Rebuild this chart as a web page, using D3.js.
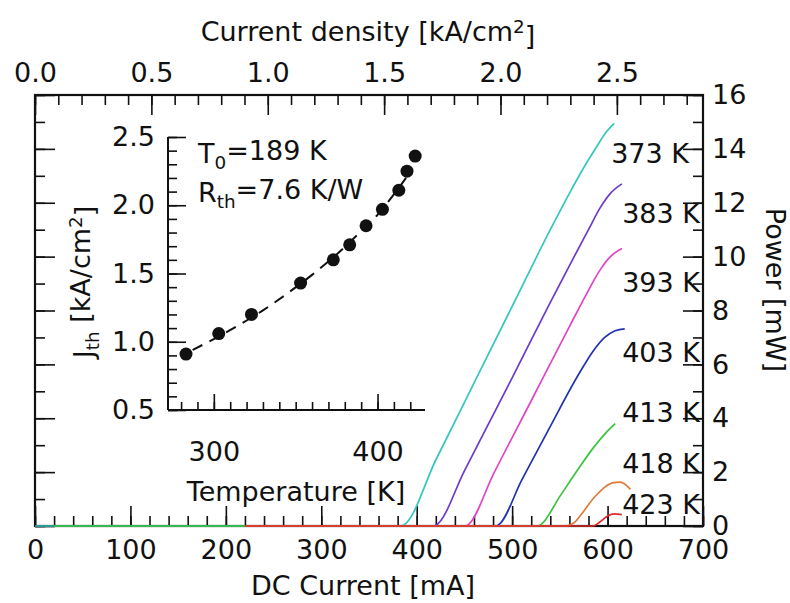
<!DOCTYPE html>
<html><head><meta charset="utf-8">
<script src="https://cdn.jsdelivr.net/npm/d3@7/dist/d3.min.js"></script>
<style>
body{margin:0;background:#fff}
svg{display:block}
text{font-family:"DejaVu Sans",sans-serif;fill:#111}
</style>
</head><body>
<svg id="chart" width="790" height="603"></svg>
<script>
// Light output vs. DC current at several heat-sink temperatures: [current mA, power mW]
const curveNames = ["373 K", "383 K", "393 K", "403 K", "413 K", "418 K", "423 K"];
const curveColors = ["#35c6bd", "#6b3ccb", "#e046c6", "#2233b2", "#3cc23c", "#e07a3c", "#e02a2a"];
const li373 = [[0,0],[382,0],[386,0.03],[420,2.45],[460,5.3],[500,8.15],[540,11.0],[560,12.35],[575,13.3],[588,14.05],[598,14.6],[607,14.95]];
const li383 = [[220,0],[418,0],[421,0.05],[450,2.05],[500,5.5],[540,8.3],[565,10.0],[580,11.0],[592,11.8],[603,12.35],[615,12.7]];
const li393 = [[220,0],[451,0],[454,0.05],[480,1.9],[520,4.65],[560,7.4],[580,8.75],[592,9.5],[603,10.0],[615,10.3]];
const li403 = [[220,0],[483,0],[486,0.05],[510,1.7],[540,3.7],[570,5.65],[585,6.5],[597,7.0],[608,7.25],[618,7.32]];
const li413 = [[20,0],[527,0],[530,0.05],[550,1.1],[570,2.15],[585,2.9],[598,3.45],[608,3.8]];
const li418 = [[220,0],[556,0],[565,0.12],[575,0.55],[585,1.02],[595,1.38],[605,1.6],[613,1.63],[620,1.5],[624,1.36]];
const li423 = [[220,0],[585,0],[592,0.15],[600,0.37],[607,0.45],[615,0.42]];
const curves = [li373, li383, li393, li403, li413, li418, li423];
// Placement of the curve names: height in mW, right edge in px
const nameAt = [13.85, 11.62, 9.06, 6.46, 4.23, 2.34, 0.82];
const nameRight = [689, 700, 700, 700, 700, 700, 700];

// Inset: threshold current density vs. temperature
const insetTemp = [283, 303, 323, 353, 373, 383, 393, 403, 413, 418, 423];
const insetJth = [0.91, 1.06, 1.20, 1.43, 1.60, 1.71, 1.85, 1.97, 2.11, 2.25, 2.36];
const fitTemp = [287, 300, 315, 330, 345, 360, 375, 390, 400, 410, 418];
const fitJth = [0.94, 1.02, 1.12, 1.23, 1.355, 1.49, 1.64, 1.81, 1.93, 2.08, 2.21];

// Axis tick values
const currentTicks = [0, 100, 200, 300, 400, 500, 600, 700];
const powerTicks = [0, 2, 4, 6, 8, 10, 12, 14, 16];
const densityTicks = [0.0, 0.5, 1.0, 1.5, 2.0, 2.5];
const densityAtMax = 2.87; // kA/cm² at 700 mA
const insetTempTicks = [300, 400];
const insetJTicks = [0.5, 1.0, 1.5, 2.0, 2.5];

const FS = 27;
const svg = d3.select("#chart");
svg.append("rect").attr("width", 790).attr("height", 603).attr("fill", "#fff");

const L = 35, R = 703, T = 95, B = 526;
const x = d3.scaleLinear().domain([0, 700]).range([L, R]);
const xd = d3.scaleLinear().domain([0, densityAtMax]).range([L, R]);
const y = d3.scaleLinear().domain([0, 16]).range([B, T]);

function styleAxis(g) {
  g.select(".domain").remove();
  g.attr("font-size", FS).attr("font-family", "DejaVu Sans, sans-serif");
  g.selectAll("line").attr("stroke", "#111").attr("stroke-width", 1.6);
  g.selectAll("text").attr("fill", "#111");
  return g;
}
function tenths(a, b) { return d3.range(a, b + 1).map(v => v / 10); }

// bottom axis
styleAxis(svg.append("g").attr("transform", `translate(0,${B})`)
  .call(d3.axisBottom(x).tickValues(d3.range(0, 701, 20)).tickSize(-10).tickFormat("")));
styleAxis(svg.append("g").attr("transform", `translate(0,${B})`)
  .call(d3.axisBottom(x).tickValues(currentTicks).tickSize(-20).tickPadding(14).tickFormat(d3.format("d"))));
// top axis
styleAxis(svg.append("g").attr("transform", `translate(0,${T})`)
  .call(d3.axisTop(xd).tickValues(tenths(0, 28)).tickSize(-10).tickFormat("")));
styleAxis(svg.append("g").attr("transform", `translate(0,${T})`)
  .call(d3.axisTop(xd).tickValues(densityTicks).tickSize(-20).tickPadding(13).tickFormat(d3.format(".1f"))));
// right axis
styleAxis(svg.append("g").attr("transform", `translate(${R},0)`)
  .call(d3.axisRight(y).tickValues(d3.range(0, 17, 1)).tickSize(-10).tickFormat("")));
styleAxis(svg.append("g").attr("transform", `translate(${R},0)`)
  .call(d3.axisRight(y).tickValues(powerTicks).tickSize(-20).tickPadding(9).tickFormat(d3.format("d"))));
// left axis (ticks only)
styleAxis(svg.append("g").attr("transform", `translate(${L},0)`)
  .call(d3.axisLeft(y).tickValues(d3.range(0, 17, 1)).tickSize(-10).tickFormat("")));
styleAxis(svg.append("g").attr("transform", `translate(${L},0)`)
  .call(d3.axisLeft(y).tickValues(powerTicks).tickSize(-20).tickFormat("")));

// frame
svg.append("rect").attr("x", L).attr("y", T).attr("width", R - L).attr("height", B - T)
  .attr("fill", "none").attr("stroke", "#111").attr("stroke-width", 2.2);

// curves, drawn over the frame so the zero-power baselines stay visible
const line = d3.line().x(d => x(d[0])).y(d => y(d[1])).curve(d3.curveMonotoneX);
const cg = svg.append("g");
curves.forEach((c, i) => {
  cg.append("path").datum(c).attr("d", line)
    .attr("fill", "none").attr("stroke", curveColors[i]).attr("stroke-width", 1.7);
});

// curve names
curveNames.forEach((n, i) => {
  svg.append("text").attr("x", nameRight[i]).attr("y", y(nameAt[i])).attr("dy", "0.36em")
    .attr("text-anchor", "end").attr("font-size", FS).text(n);
});

// axis titles
const topTitle = svg.append("text").attr("x", 368).attr("y", 41).attr("text-anchor", "middle").attr("font-size", FS);
topTitle.append("tspan").text("Current density [kA/cm");
topTitle.append("tspan").attr("dy", "-0.45em").attr("font-size", FS * 0.68).text("2");
topTitle.append("tspan").attr("dy", "0.45em").text("]");
svg.append("text").attr("x", 363).attr("y", 595).attr("text-anchor", "middle").attr("font-size", FS).text("DC Current [mA]");
svg.append("text").attr("transform", "translate(766,290) rotate(90)").attr("text-anchor", "middle")
  .attr("font-size", FS).text("Power [mW]");

// ---- inset ----
const iL = 168, iR = 425, iT = 137, iB = 410;
const ix = d3.scaleLinear().domain([272, 429]).range([iL, iR]);
const iy = d3.scaleLinear().domain([0.5, 2.5]).range([iB, iT]);
const inset = svg.append("g");

styleAxis(inset.append("g").attr("transform", `translate(0,${iB})`)
  .call(d3.axisBottom(ix).tickValues(d3.range(280, 421, 10)).tickSize(-8).tickFormat("")));
styleAxis(inset.append("g").attr("transform", `translate(0,${iB})`)
  .call(d3.axisBottom(ix).tickValues(insetTempTicks).tickSize(-16).tickPadding(32).tickFormat(d3.format("d"))));
styleAxis(inset.append("g").attr("transform", `translate(${iL},0)`)
  .call(d3.axisLeft(iy).tickValues(tenths(5, 25)).tickSize(-9).tickFormat("")));
styleAxis(inset.append("g").attr("transform", `translate(${iL},0)`)
  .call(d3.axisLeft(iy).tickValues(insetJTicks).tickSize(-18).tickPadding(13).tickFormat(d3.format(".1f"))));
inset.append("line").attr("x1", iL).attr("x2", iR).attr("y1", iB).attr("y2", iB).attr("stroke", "#111").attr("stroke-width", 2);
inset.append("line").attr("x1", iL).attr("x2", iL).attr("y1", iT).attr("y2", iB).attr("stroke", "#111").attr("stroke-width", 2);

const fitLine = d3.line().x((d, i) => ix(fitTemp[i])).y(d => iy(d)).curve(d3.curveMonotoneX);
inset.append("path").datum(fitJth).attr("d", fitLine).attr("fill", "none")
  .attr("stroke", "#111").attr("stroke-width", 2).attr("stroke-dasharray", "11,8");
inset.selectAll("circle").data(insetJth).join("circle")
  .attr("cx", (d, i) => ix(insetTemp[i])).attr("cy", d => iy(d)).attr("r", 6.5).attr("fill", "#111");

const t0 = inset.append("text").attr("x", 198).attr("y", 163).attr("font-size", FS);
t0.append("tspan").text("T");
t0.append("tspan").attr("dy", "0.3em").attr("font-size", FS * 0.68).text("0");
t0.append("tspan").attr("dy", "-0.3em").text("=189 K");
const rth = inset.append("text").attr("x", 198).attr("y", 202).attr("font-size", FS);
rth.append("tspan").text("R");
rth.append("tspan").attr("dy", "0.3em").attr("font-size", FS * 0.68).text("th");
rth.append("tspan").attr("dy", "-0.3em").text("=7.6 K/W");

const jl = inset.append("text").attr("transform", "translate(93,282) rotate(-90)").attr("text-anchor", "middle").attr("font-size", FS);
jl.append("tspan").text("J");
jl.append("tspan").attr("dy", "0.3em").attr("font-size", FS * 0.68).text("th");
jl.append("tspan").attr("dy", "-0.3em").text(" [kA/cm");
jl.append("tspan").attr("dy", "-0.45em").attr("font-size", FS * 0.68).text("2");
jl.append("tspan").attr("dy", "0.45em").text("]");
inset.append("text").attr("x", 296).attr("y", 501).attr("text-anchor", "middle").attr("font-size", FS).text("Temperature [K]");
</script>
</body></html>
